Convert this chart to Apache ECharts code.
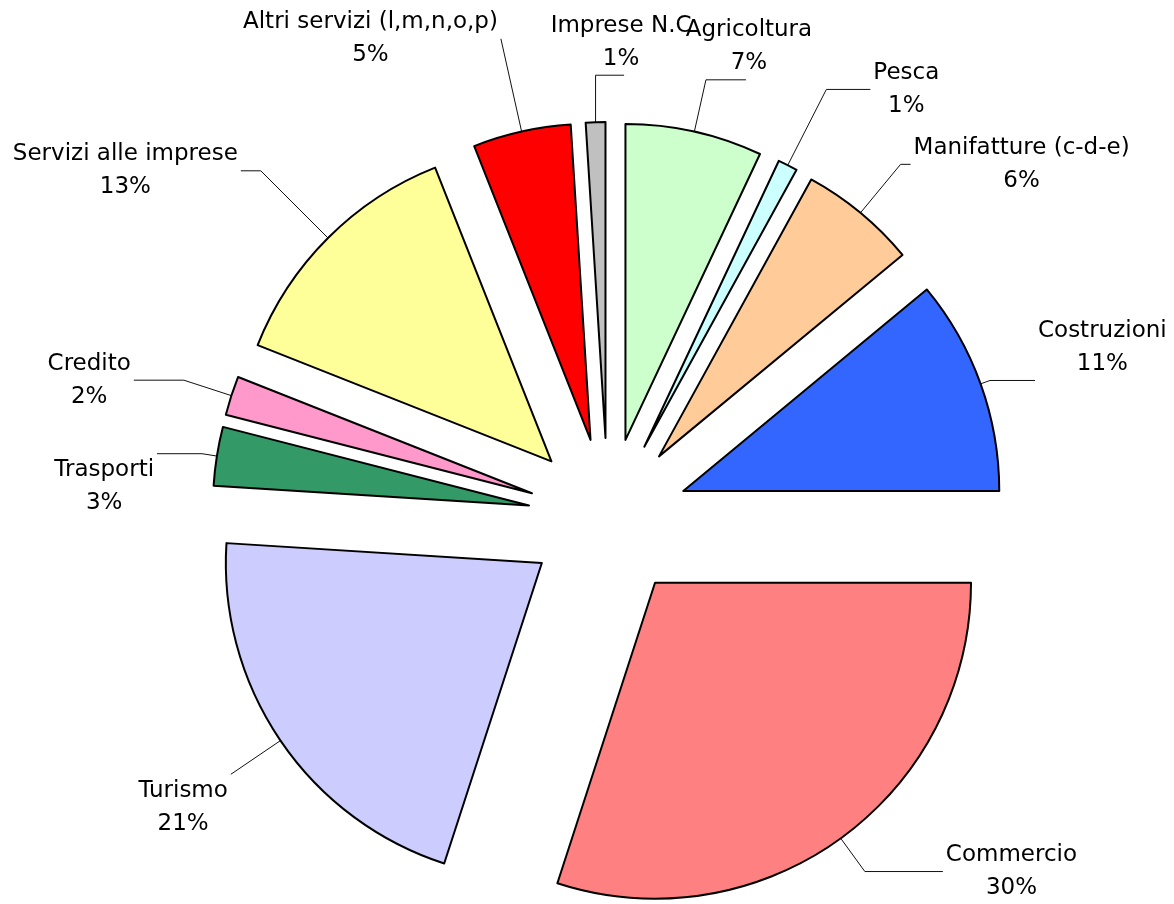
<!DOCTYPE html>
<html>
<head>
<meta charset="utf-8">
<script src="https://cdn.jsdelivr.net/npm/echarts@6/dist/echarts.min.js"></script>
<style>html,body{margin:0;padding:0;background:#fff}#c{width:1174px;height:904px}</style>
</head>
<body>
<div id="c"></div>
<script>
const categories = ['Agricoltura','Pesca','Manifatture (c-d-e)','Costruzioni','Commercio','Turismo','Trasporti','Credito','Servizi alle imprese','Altri servizi (l,m,n,o,p)','Imprese N.C'];
const shares = [7, 1, 6, 11, 30, 21, 3, 2, 13, 5, 1];
const colors = ['#CCFFCC','#CCFFFF','#FFCC99','#3366FF','#FF8080','#CCCCFF','#339966','#FF99CC','#FFFF99','#FF0000','#C0C0C0'];
const leaderLen  = [53, 85, 63, 10, 41, 60, 15, 50, 95, 95, 47];
const leaderLen2 = [40, 44, 10, 45, 78, 0, 45, 50, 20, 0, -30];
// where the label sits relative to the end of its leader line
const labelSide = ['above','mid','mid','over','mid','under','under','mid','mid','mid','above'];

const chart = echarts.init(document.getElementById('c'), null, {renderer:'canvas'});
chart.setOption({
  animation: false,
  backgroundColor: '#fff',
  series: [{
    type: 'pie',
    center: [608, 518],
    radius: [0, 316],
    startAngle: 90,
    clockwise: true,
    selectedMode: 'multiple',
    selectedOffset: 80,
    avoidLabelOverlap: false,
    itemStyle: {borderColor: '#000', borderWidth: 2},
    emphasis: {disabled: true},
    select: {itemStyle: {borderColor: '#000', borderWidth: 2}},
    label: {
      show: true,
      position: 'outside',
      distanceToLabelLine: 3,
      formatter: p => '{n|' + p.name + '}\n{n|' + p.value + '%}',
      rich: {n: {align: 'center', fontFamily: 'DejaVu Sans', fontSize: 23, lineHeight: 33, color: '#000'}}
    },
    labelLine: {show: true, lineStyle: {color: '#111', width: 1}},
    labelLayout: function (p) {
      const s = labelSide[p.dataIndex];
      if (s === 'above') return {align: 'center', verticalAlign: 'bottom'};
      if (s === 'over') return {verticalAlign: 'bottom'};
      if (s === 'under') return {verticalAlign: 'top'};
      return {};
    },
    data: categories.map((c, i) => ({
      name: c, value: shares[i], selected: true,
      itemStyle: {color: colors[i]},
      labelLine: {length: leaderLen[i], length2: leaderLen2[i]}
    }))
  }]
});
</script>
</body>
</html>
